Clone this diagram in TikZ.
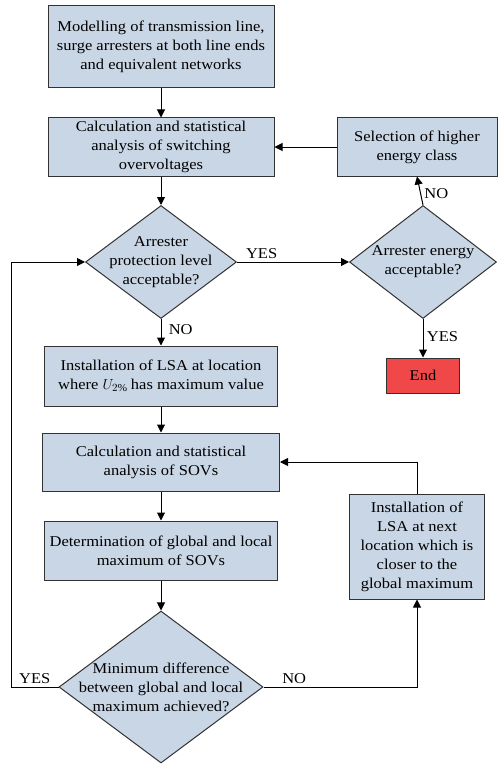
\documentclass[tikz,border=0pt]{standalone}
\usepackage{fontspec}
\setmainfont[FakeStretch=1.1]{Liberation Serif}
\usetikzlibrary{shapes.geometric,arrows.meta}
\definecolor{boxblue}{RGB}{201,214,229}
\definecolor{endred}{RGB}{240,72,72}
\definecolor{edgegray}{RGB}{50,50,50}

\begin{document}
\begin{tikzpicture}[x=1pt,y=-1pt,line width=1pt,
    font=\fontsize{15}{19}\selectfont,
    block/.style={draw=edgegray,fill=boxblue,align=center,inner sep=2pt},
    decision/.style={draw=edgegray,fill=boxblue,diamond,inner sep=0pt,
        label={[align=center]center:#1}},
    flow/.style={draw=black,-{Triangle[length=8pt,width=8pt]}}]
    \useasboundingbox (0,0) rectangle (498,765);
    % main column
    \node[block,minimum width=226pt,minimum height=82pt] (model) at (161,47)
        {Modelling of transmission line,\\surge arresters at both line ends\\and equivalent networks};
    \node[block,minimum width=226pt,minimum height=58pt] (calc) at (161,147)
        {Calculation and statistical\\analysis of switching\\overvoltages};
    \node[decision={Arrester\\protection level\\acceptable?},
        minimum width=151pt,minimum height=113pt] (prot) at (161,262) {};
    \node[block,minimum width=233pt,minimum height=60pt] (lsa) at (161,376)
        {Installation of LSA at location\\where $U_{2\%}$ has maximum value};
    \node[block,minimum width=237pt,minimum height=58pt] (sov) at (161,462)
        {Calculation and statistical\\analysis of SOVs};
    \node[block,minimum width=233pt,minimum height=59pt] (det) at (161,550.5)
        {Determination of global and local\\maximum of SOVs};
    \node[decision={Minimum difference\\between global and local\\maximum achieved?},
        minimum width=204pt,minimum height=152pt] (mindiff) at (161,687) {};
    % right column
    \node[block,minimum width=160pt,minimum height=58pt] (select) at (417,147)
        {Selection of higher\\energy class};
    \node[decision={Arrester energy\\acceptable?},
        minimum width=147pt,minimum height=113pt] (energy) at (423,262) {};
    \node[block,fill=endred,minimum width=73pt,minimum height=35pt] (end) at (423,375.5) {End};
    \node[block,minimum width=135pt,minimum height=105pt] (next) at (417,546.5)
        {Installation of\\LSA at next\\location which is\\closer to the\\global maximum};
    \coordinate (loopL) at (11,687);

    \draw[flow] (model) -- (calc);
    \draw[flow] (calc) -- (prot);
    \draw[flow] (prot.east) -- node[above,pos=0.22] {YES} (energy.west);
    \draw[flow] (energy.north) -- node[right,pos=0.4] {NO} (select.south);
    \draw[flow] (select.west) -- (calc.east);
    \draw[flow] (energy.south) -- node[right,pos=0.45] {YES} (end.north);
    \draw[flow] (prot.south) -- node[right,pos=0.4,xshift=4pt] {NO} (lsa.north);
    \draw[flow] (lsa) -- (sov);
    \draw[flow] (sov) -- (det);
    \draw[flow] (det) -- (mindiff);
    \draw[flow] (mindiff.west) -- node[above] {YES} (loopL) |- (prot.west);
    \draw[flow] (mindiff.east) -| node[above,pos=0.1] {NO} (next.south);
    \draw[flow] (next.north) |- (sov.east);
\end{tikzpicture}
\end{document}
